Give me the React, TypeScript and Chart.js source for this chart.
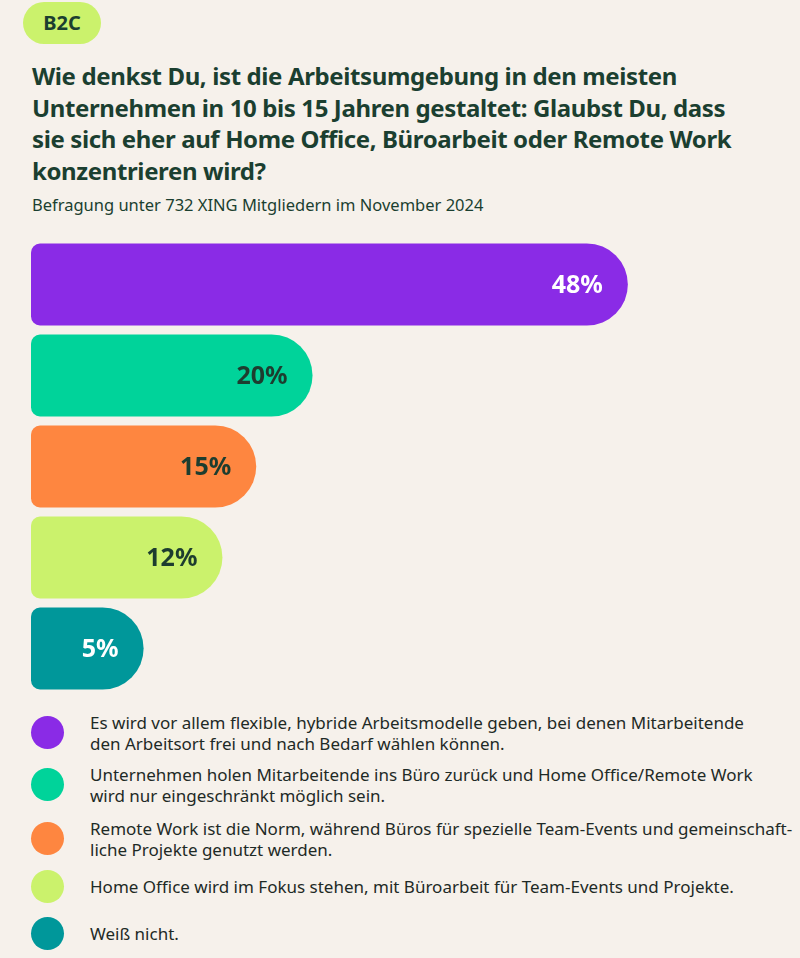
import React, { useEffect, useRef } from "react";
import { Chart, registerables } from "chart.js";

Chart.register(...registerables);

const badge = "B2C";
const titleLines = [
  "Wie denkst Du, ist die Arbeitsumgebung in den meisten",
  "Unternehmen in 10 bis 15 Jahren gestaltet: Glaubst Du, dass",
  "sie sich eher auf Home Office, Büroarbeit oder Remote Work",
  "konzentrieren wird?",
];
const subtitle = "Befragung unter 732 XING Mitgliedern im November 2024";

const legendLines: string[][] = [
  [
    "Es wird vor allem flexible, hybride Arbeitsmodelle geben, bei denen Mitarbeitende",
    "den Arbeitsort frei und nach Bedarf wählen können.",
  ],
  [
    "Unternehmen holen Mitarbeitende ins Büro zurück und Home Office/Remote Work",
    "wird nur eingeschränkt möglich sein.",
  ],
  [
    "Remote Work ist die Norm, während Büros für spezielle Team-Events und gemeinschaft-",
    "liche Projekte genutzt werden.",
  ],
  ["Home Office wird im Fokus stehen, mit Büroarbeit für Team-Events und Projekte."],
  ["Weiß nicht."],
];
const categories = legendLines.map((l) => l.join(" "));
const values = [48, 20, 15, 12, 5];
const valueLabels = ["48%", "20%", "15%", "12%", "5%"];

const barColors = ["#8A2BE6", "#00D39A", "#FE8640", "#CBF26C", "#00979A"];
const labelColors = ["#FFFFFF", "#1D3D2F", "#1D3D2F", "#1D3D2F", "#FFFFFF"];

const FONT = "'Noto Sans', sans-serif";
const DARK = "#1B3F30";
const BG = "#F6F1EB";
const legendGaps = [10, 12, 10, 14.5, 0];

const valueLabelPlugin = {
  id: "valueLabels",
  afterDatasetsDraw(chart: any) {
    const ctx = chart.ctx;
    const meta = chart.getDatasetMeta(0);
    ctx.save();
    ctx.font = `bold 25px ${FONT}`;
    ctx.textAlign = "right";
    ctx.textBaseline = "middle";
    meta.data.forEach((bar: any, i: number) => {
      ctx.fillStyle = labelColors[i];
      ctx.fillText(valueLabels[i], bar.x - 25, bar.y + 1);
    });
    ctx.restore();
  },
};

export default function App() {
  const canvasRef = useRef<HTMLCanvasElement>(null);

  useEffect(() => {
    if (!canvasRef.current) return;
    const chart = new Chart(canvasRef.current, {
      type: "bar",
      data: {
        labels: categories,
        datasets: [
          {
            data: values,
            base: -5,
            backgroundColor: barColors,
            borderWidth: 0,
            borderSkipped: false,
            borderRadius: { topLeft: 9, bottomLeft: 9, topRight: 41, bottomRight: 41 },
            barPercentage: 82 / 91,
            categoryPercentage: 1,
          } as any,
        ],
      },
      options: {
        indexAxis: "y",
        animation: false,
        responsive: false,
        maintainAspectRatio: false,
        layout: { padding: { left: 31, right: 37, top: 0, bottom: 0 } },
        scales: {
          x: { display: false, min: -5, max: 60 },
          y: { display: false },
        },
        plugins: {
          legend: { display: false },
          tooltip: { enabled: false },
        },
      },
      plugins: [valueLabelPlugin],
    });
    return () => chart.destroy();
  }, []);

  return (
    <div
      style={{
        position: "absolute",
        left: 0,
        top: 0,
        width: 800,
        height: 958,
        background: BG,
        fontFamily: FONT,
        color: DARK,
        overflow: "hidden",
      }}
    >
      <div
        style={{
          position: "absolute",
          left: 23,
          top: 2,
          width: 78,
          height: 42,
          borderRadius: 21,
          background: "#CBF26C",
          fontWeight: 700,
          fontSize: 20,
          lineHeight: "42px",
          textAlign: "center",
        }}
      >
        {badge}
      </div>
      <div
        style={{
          position: "absolute",
          left: 32,
          top: 60,
          fontWeight: 700,
          fontSize: 24,
          letterSpacing: "-0.38px",
          lineHeight: "31.5px",
          whiteSpace: "nowrap",
        }}
      >
        {titleLines.map((l, i) => (
          <div key={i}>{l}</div>
        ))}
      </div>
      <div
        style={{
          position: "absolute",
          left: 32,
          top: 194,
          fontSize: 16.5,
          lineHeight: "22px",
          whiteSpace: "nowrap",
        }}
      >
        {subtitle}
      </div>
      <canvas
        ref={canvasRef}
        width={800}
        height={455}
        style={{ position: "absolute", left: 0, top: 238.5, width: 800, height: 455 }}
      />
      <div style={{ position: "absolute", left: 31, top: 711.5, width: 769 }}>
        {legendLines.map((lines, i) => (
          <div
            key={i}
            style={{
              display: "flex",
              alignItems: "center",
              minHeight: 33,
              marginBottom: legendGaps[i],
            }}
          >
            <div
              style={{
                width: 33,
                height: 33,
                borderRadius: "50%",
                background: barColors[i],
                flex: "0 0 auto",
              }}
            />
            <div
              style={{
                marginLeft: 26,
                fontSize: 17,
                lineHeight: "21px",
                color: "#1E2A26",
                whiteSpace: "nowrap",
              }}
            >
              {lines.map((l, j) => (
                <div key={j}>{l}</div>
              ))}
            </div>
          </div>
        ))}
      </div>
    </div>
  );
}
